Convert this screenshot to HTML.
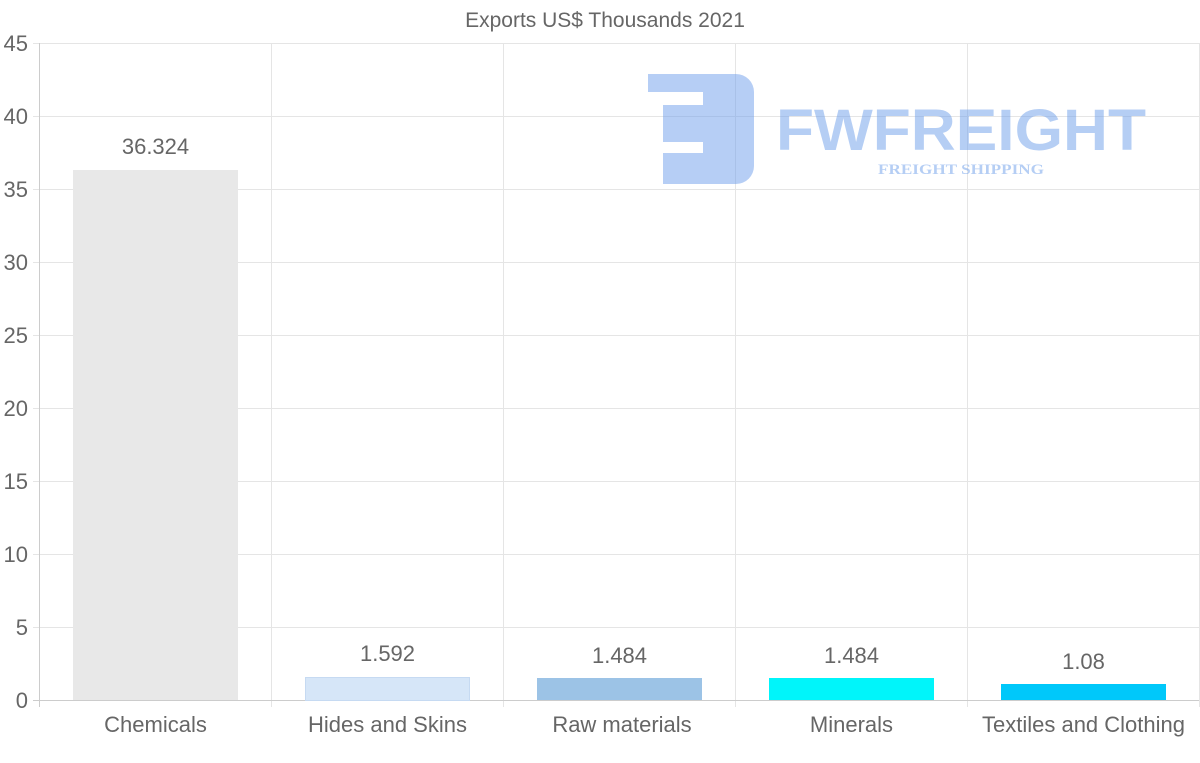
<!DOCTYPE html>
<html><head><meta charset="utf-8"><style>html,body{margin:0;padding:0;background:#fff}svg{display:block}</style></head>
<body>
<svg width="1200" height="763" xmlns="http://www.w3.org/2000/svg" font-family="Liberation Sans, sans-serif">
<text x="605" y="27" font-size="21" fill="#666" text-anchor="middle">Exports US$ Thousands 2021</text>
<g stroke="#e5e5e5" stroke-width="1">
<line x1="33" y1="43.5" x2="1199" y2="43.5"/>
<line x1="33" y1="116.5" x2="1199" y2="116.5"/>
<line x1="33" y1="189.5" x2="1199" y2="189.5"/>
<line x1="33" y1="262.5" x2="1199" y2="262.5"/>
<line x1="33" y1="335.5" x2="1199" y2="335.5"/>
<line x1="33" y1="408.5" x2="1199" y2="408.5"/>
<line x1="33" y1="481.5" x2="1199" y2="481.5"/>
<line x1="33" y1="554.5" x2="1199" y2="554.5"/>
<line x1="33" y1="627.5" x2="1199" y2="627.5"/>
<line x1="271.5" y1="43" x2="271.5" y2="707"/>
<line x1="503.5" y1="43" x2="503.5" y2="707"/>
<line x1="735.5" y1="43" x2="735.5" y2="707"/>
<line x1="967.5" y1="43" x2="967.5" y2="707"/>
<line x1="1199.5" y1="43" x2="1199.5" y2="707"/>
</g>
<g stroke="#ccc"><line x1="39.5" y1="43" x2="39.5" y2="707"/><line x1="33" y1="700.5" x2="1199" y2="700.5"/></g>
<g font-size="22" fill="#666" text-anchor="end">
<text x="28" y="51">45</text><text x="28" y="124">40</text><text x="28" y="197">35</text><text x="28" y="270">30</text><text x="28" y="343">25</text><text x="28" y="416">20</text><text x="28" y="489">15</text><text x="28" y="562">10</text><text x="28" y="635">5</text><text x="28" y="708">0</text>
</g>
<g opacity="0.5">
<path d="M648 74 H736 a18 18 0 0 1 18 18 V166 a18 18 0 0 1 -18 18 H663 V153 H703 V142 H663 V105 H703 V92 H648 Z" fill="#6d9eeb"/>
<text x="776" y="150" font-size="58" font-weight="bold" fill="#6d9eeb" textLength="370" lengthAdjust="spacingAndGlyphs">FWFREIGHT</text>
<text x="878" y="174" font-size="15" font-weight="bold" font-family="Liberation Serif, serif" fill="#6d9eeb" textLength="166" lengthAdjust="spacingAndGlyphs">FREIGHT SHIPPING</text>
</g>
<rect x="73" y="170" width="165" height="530" fill="#e8e8e8"/>
<rect x="305.5" y="677.5" width="164" height="23" fill="#d6e6f8" stroke="#c6daf2"/>
<rect x="537" y="678" width="165" height="22" fill="#9cc3e6"/>
<rect x="769" y="678" width="165" height="22" fill="#00f5fa"/>
<rect x="1001" y="684" width="165" height="16" fill="#00c8fa"/>
<g font-size="22" fill="#666" text-anchor="middle">
<text x="155.5" y="154">36.324</text>
<text x="387.5" y="661">1.592</text>
<text x="619.5" y="663">1.484</text>
<text x="851.5" y="663">1.484</text>
<text x="1083.5" y="669">1.08</text>
<text x="155.5" y="732">Chemicals</text>
<text x="387.5" y="732">Hides and Skins</text>
<text x="622" y="732">Raw materials</text>
<text x="851.5" y="732">Minerals</text>
<text x="1083.5" y="732">Textiles and Clothing</text>
</g>
</svg>
</body></html>
